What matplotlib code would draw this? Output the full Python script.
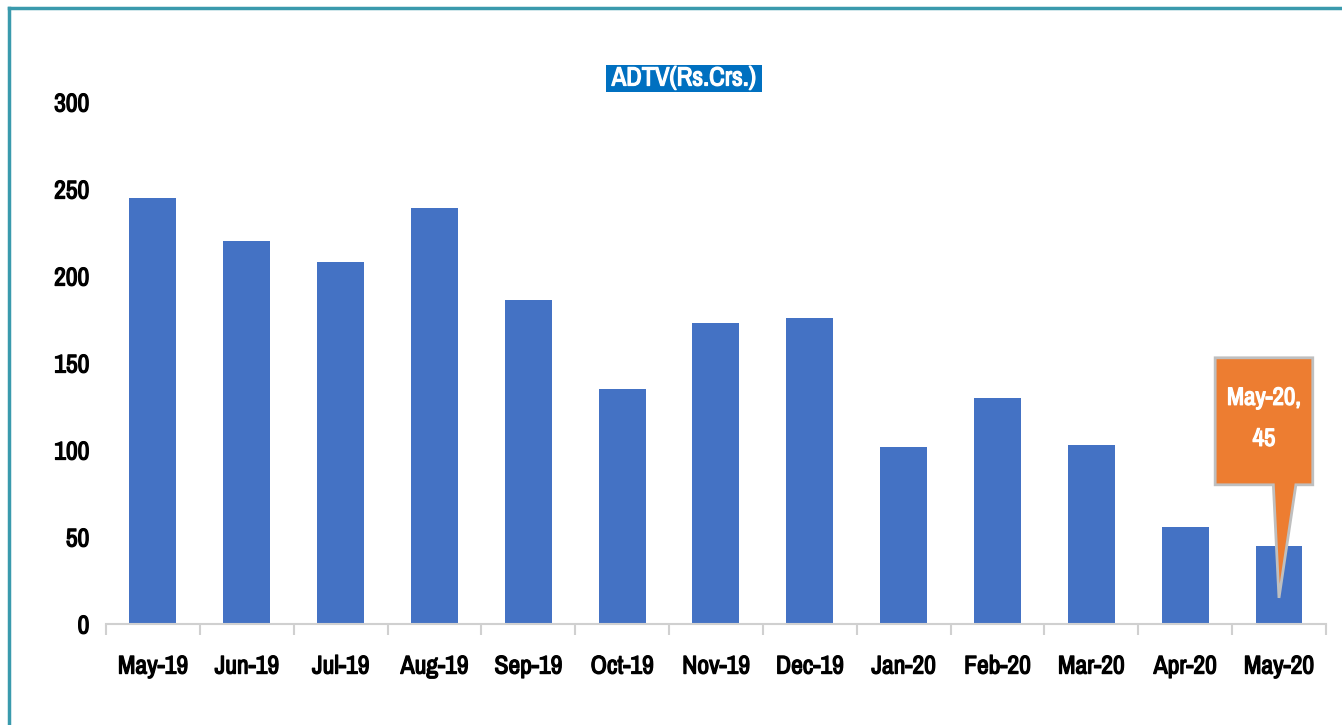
import matplotlib
matplotlib.use("Agg")
import matplotlib.pyplot as plt
from matplotlib.lines import Line2D
from matplotlib.patches import Polygon, Rectangle
import matplotlib.patheffects as pe
import matplotlib.font_manager as fm
import numpy as np

names = sorted({f.name for f in fm.fontManager.ttflist})
cond = [n for n in names if any(k in n for k in ("Narrow", "Condensed", "Cond"))]
fam = cond[0] if cond else "DejaVu Sans"
plt.rcParams['font.family'] = [fam, 'DejaVu Sans']

months = ["May-19", "Jun-19", "Jul-19", "Aug-19", "Sep-19", "Oct-19", "Nov-19",
          "Dec-19", "Jan-20", "Feb-20", "Mar-20", "Apr-20", "May-20"]
adtv = [245, 220, 208, 239, 186, 135, 173, 176, 102, 130, 103, 56, 45]
title = "ADTV(Rs.Crs.)"

# fake bold, the narrow font has no bold face here
dark_bold = [pe.withStroke(linewidth=0.9, foreground="black")]
white_bold = [pe.withStroke(linewidth=0.9, foreground="white")]

fig = plt.figure(figsize=(13.42, 7.25), dpi=100)
ax = fig.add_axes([0.079, 0.1393, 0.909, 0.72])

x = np.arange(len(months))
ax.bar(x, adtv, width=0.5, color="#4472C4")

ax.set_xlim(-0.5, len(months) - 0.5)
ax.set_ylim(0, 300)
ax.set_yticks(np.arange(0, 301, 50))
ax.set_xticks(x)
ax.set_xticklabels(months)
ax.set_xticks(np.arange(-0.5, len(months)), minor=True)
ax.tick_params(axis="x", which="major", length=0, pad=22, labelsize=18.5)
ax.tick_params(axis="x", which="minor", length=8, color="#D0D0D0", width=1.5)
ax.tick_params(axis="y", length=0, pad=12, labelsize=18.5)
for lab in ax.get_xticklabels() + ax.get_yticklabels():
    lab.set_fontweight("bold")
    lab.set_path_effects(dark_bold)

for s in ["top", "right", "left"]:
    ax.spines[s].set_visible(False)
ax.spines["bottom"].set_color("#D0D0D0")
ax.spines["bottom"].set_linewidth(1.5)

# title box
fig.add_artist(Rectangle((606 / 1342, 1 - 92 / 725), 156 / 1342, 27 / 725,
                         fc="#0070C0", ec="none", transform=fig.transFigure))
fig.text(684 / 1342, 1 - 78 / 725, title, ha="center", va="center", fontsize=19,
         color="white", fontweight="bold", path_effects=white_bold)

# callout for last bar
last = len(months) - 1
box_l, box_r, box_b, box_t = last - 0.68, last + 0.36, 80, 153
pts = [(box_l, box_t), (box_r, box_t), (box_r, box_b), (last + 0.18, box_b),
       (last, 15), (last - 0.06, box_b), (box_l, box_b)]
ax.add_patch(Polygon(pts, closed=True, fc="#ED7D31", ec="#BFBFBF", lw=2,
                     clip_on=False, zorder=3))
ax.text((box_l + box_r) / 2, (box_b + box_t) / 2 + 2, f"{months[last]},\n{adtv[last]}",
        ha="center", va="center", fontsize=18, color="white", fontweight="bold",
        path_effects=white_bold, linespacing=1.95, zorder=4)

# frame lines
fig.add_artist(Line2D([0.007, 1.0], [0.989, 0.989], color="#3A9AAD", lw=2.5,
                      transform=fig.transFigure))
fig.add_artist(Line2D([0.007, 0.007], [0.0, 0.989], color="#3A9AAD", lw=2.5,
                      transform=fig.transFigure))

fig.savefig("out.png", dpi=100)
